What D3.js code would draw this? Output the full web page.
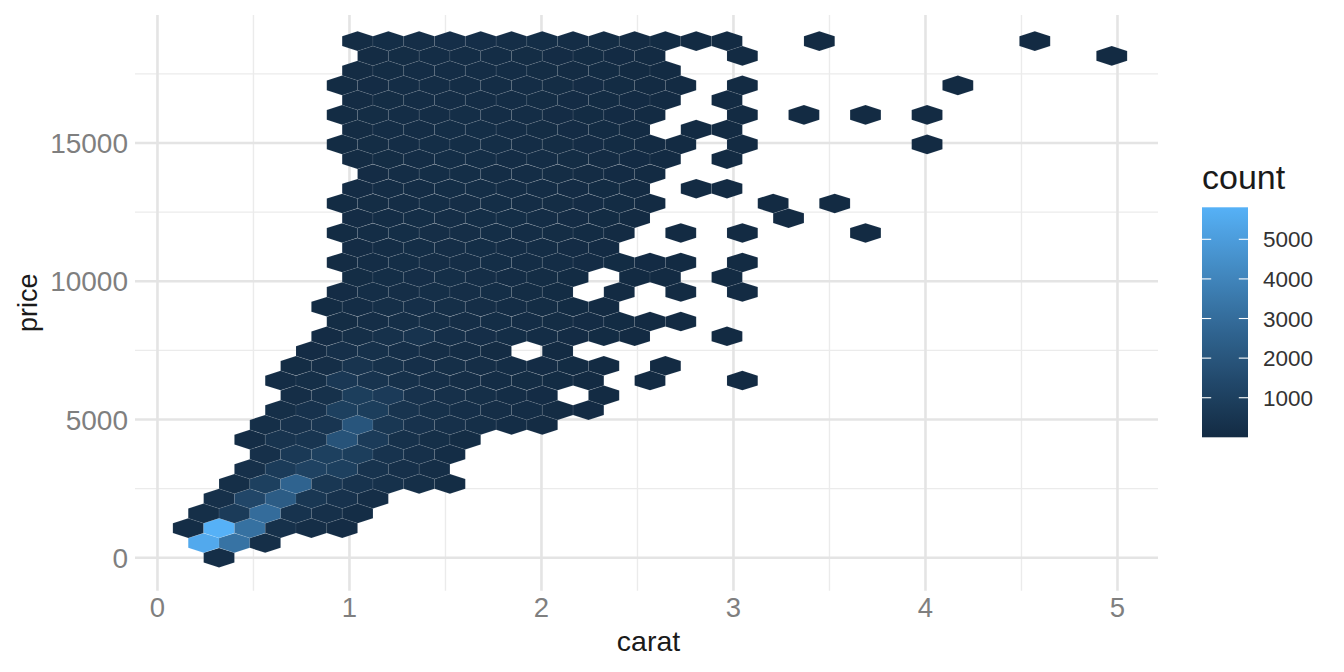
<!DOCTYPE html>
<html>
<head>
<meta charset="utf-8">
<script src="https://cdn.jsdelivr.net/npm/d3@7"></script>
<style>
	body { margin: 0; background: #fff; }
	text { font-family: "Liberation Sans", Arial, Helvetica, sans-serif; }
</style>
</head>
<body>
<svg id="chart" width="1344" height="672"></svg>
<script>
// hex lattice of the binned diamonds data (carat vs price)
const caratBin = 0.16033;
const priceRowStep = 533.9;

// first half-column index of each hex row (row 0 = price 0)
const rowStart = [4, 3, 2, 3, 4, 5, 6, 7, 6, 7, 8, 9, 8, 9, 10, 11, 12, 11,
	12, 13, 12, 13, 12, 13, 12, 13, 14, 13, 12, 13, 12, 13, 12, 13, 14, 13];

// counts per hex along each row, every second half-column (0 = no hex)
const rowCounts = [
	[150],
	[5500, 3300, 200],
	[120, 5808, 3200, 300, 150, 60],
	[200, 800, 3000, 400, 250, 100],
	[250, 1300, 2300, 600, 350, 150],
	[200, 1000, 2600, 600, 400, 300, 200, 80],
	[250, 800, 1100, 1000, 400, 250, 150],
	[250, 700, 1000, 900, 400, 250, 120],
	[120, 450, 500, 1900, 800, 300, 200, 80],
	[180, 350, 500, 2000, 600, 350, 250, 180, 120, 50],
	[180, 350, 1000, 900, 450, 300, 220, 150, 100, 50, 20],
	[150, 300, 900, 750, 350, 250, 180, 120, 60, 0, 8],
	[100, 200, 650, 450, 300, 220, 160, 120, 80, 40, 15, 0, 5, 0, 0, 2],
	[80, 150, 450, 300, 220, 180, 150, 110, 70, 35, 12, 0, 4],
	[60, 250, 280, 220, 160, 100, 50, 0, 8],
	[70, 180, 280, 400, 220, 170, 130, 100, 70, 35, 10, 0, 0, 3],
	[90, 150, 200, 180, 150, 130, 110, 90, 60, 35, 12, 5],
	[30, 120, 180, 220, 200, 160, 120, 80, 40, 15],
	[70, 130, 160, 180, 160, 130, 90, 35, 0, 8, 0, 4, 0, 2],
	[80, 140, 170, 180, 150, 120, 80, 30, 0, 10, 5, 0, 2],
	[50, 110, 140, 160, 160, 140, 120, 100, 70, 40, 20, 6, 0, 3],
	[70, 110, 140, 160, 140, 120, 100, 60, 20],
	[45, 100, 130, 150, 150, 130, 110, 80, 45, 15, 0, 5, 0, 3, 0, 0, 0, 1],
	[60, 100, 130, 150, 130, 130, 100, 75, 40, 12, 0, 0, 0, 0, 1],
	[40, 80, 120, 140, 150, 130, 110, 90, 60, 30, 10, 0, 0, 0, 1, 0, 1],
	[60, 100, 120, 140, 140, 120, 100, 70, 40, 15, 0, 4, 3],
	[70, 110, 130, 140, 120, 100, 80, 50, 25, 10],
	[50, 90, 110, 130, 140, 120, 100, 80, 50, 25, 10, 0, 3],
	[40, 90, 120, 140, 130, 130, 110, 80, 60, 35, 18, 6, 0, 4, 0, 0, 0, 0, 0, 1],
	[55, 100, 120, 130, 130, 110, 90, 60, 35, 12, 0, 4, 4],
	[40, 85, 110, 120, 140, 120, 100, 75, 45, 20, 8, 0, 0, 3, 0, 1, 0, 1, 0, 1],
	[50, 85, 100, 120, 120, 100, 90, 70, 45, 20, 8, 0, 2],
	[35, 70, 95, 110, 120, 120, 100, 85, 60, 35, 18, 6, 0, 2, 0, 0, 0, 0, 0, 0, 1],
	[50, 80, 95, 110, 110, 95, 80, 55, 35, 18, 6],
	[55, 80, 95, 100, 95, 80, 65, 45, 20, 8, 0, 0, 3, 0, 0, 0, 0, 0, 0, 0, 0, 0, 0, 0, 1],
	[80, 130, 150, 170, 170, 150, 130, 110, 80, 50, 30, 15, 5, 0, 0, 1, 0, 0, 0, 0, 0, 0, 1],
];

const xTicks = [0, 1, 2, 3, 4, 5];
const xMinorTicks = [0.5, 1.5, 2.5, 3.5, 4.5];
const yTicks = [0, 5000, 10000, 15000];
const yMinorTicks = [2500, 7500, 12500, 17500];
const legendTicks = [1000, 2000, 3000, 4000, 5000];

const svg = d3.select("#chart");

// panel
const x = d3.scaleLinear().domain([-0.117, 5.211]).range([135, 1158]);
const y = d3.scaleLinear().domain([-1194, 19630]).range([590.7, 15]);

// flatten the rows into hex cells
const cells = [];
rowCounts.forEach((counts, r) => {
	counts.forEach((n, k) => {
		if (n > 0) {
			cells.push({
				carat: ((rowStart[r] + 2 * k) * caratBin) / 2,
				price: r * priceRowStep,
				count: n,
			});
		}
	});
});

const countExtent = d3.extent(cells, (d) => d.count);
const color = d3
	.scaleLinear()
	.domain(countExtent)
	.range(["#132B43", "#56B1F7"])
	.interpolate(d3.interpolateLab);

// grid lines
const grid = svg.append("g");
grid
	.selectAll(".xminor")
	.data(xMinorTicks)
	.enter()
	.append("line")
	.attr("x1", (d) => x(d))
	.attr("x2", (d) => x(d))
	.attr("y1", y.range()[0])
	.attr("y2", y.range()[1])
	.attr("stroke", "#ebebeb")
	.attr("stroke-width", 1.4);
grid
	.selectAll(".yminor")
	.data(yMinorTicks)
	.enter()
	.append("line")
	.attr("x1", x.range()[0])
	.attr("x2", x.range()[1])
	.attr("y1", (d) => y(d))
	.attr("y2", (d) => y(d))
	.attr("stroke", "#ebebeb")
	.attr("stroke-width", 1.4);
grid
	.selectAll(".xmajor")
	.data(xTicks)
	.enter()
	.append("line")
	.attr("x1", (d) => x(d))
	.attr("x2", (d) => x(d))
	.attr("y1", y.range()[0])
	.attr("y2", y.range()[1])
	.attr("stroke", "#e4e4e4")
	.attr("stroke-width", 2.6);
grid
	.selectAll(".ymajor")
	.data(yTicks)
	.enter()
	.append("line")
	.attr("x1", x.range()[0])
	.attr("x2", x.range()[1])
	.attr("y1", (d) => y(d))
	.attr("y2", (d) => y(d))
	.attr("stroke", "#e4e4e4")
	.attr("stroke-width", 2.6);

// hexagons
const hw = x(caratBin / 2) - x(0);
const hv = y(0) - y((priceRowStep / Math.sqrt(3)) * 1.15);
const hexPoints = (d) => {
	const cx = x(d.carat);
	const cy = y(d.price);
	return [
		[cx + hw, cy - hv / 2],
		[cx, cy - hv],
		[cx - hw, cy - hv / 2],
		[cx - hw, cy + hv / 2],
		[cx, cy + hv],
		[cx + hw, cy + hv / 2],
	]
		.map((p) => p.join(","))
		.join(" ");
};

svg
	.append("g")
	.selectAll("polygon")
	.data(cells)
	.enter()
	.append("polygon")
	.attr("points", hexPoints)
	.attr("fill", (d) => color(d.count))
	.attr("stroke", "rgba(255,255,255,0.13)")
	.attr("stroke-width", 0.5);

// axis labels
svg
	.append("g")
	.selectAll("text")
	.data(xTicks)
	.enter()
	.append("text")
	.attr("x", (d) => x(d))
	.attr("y", 617)
	.attr("text-anchor", "middle")
	.attr("fill", "#7f7f7f")
	.style("font-size", "27.5px")
	.text((d) => d);

svg
	.append("g")
	.selectAll("text")
	.data(yTicks)
	.enter()
	.append("text")
	.attr("x", 128)
	.attr("y", (d) => y(d))
	.attr("dy", "0.36em")
	.attr("text-anchor", "end")
	.attr("fill", "#7f7f7f")
	.style("font-size", "28px")
	.text((d) => d);

svg
	.append("text")
	.attr("x", (x.range()[0] + x.range()[1]) / 2 + 2)
	.attr("y", 651)
	.attr("text-anchor", "middle")
	.attr("fill", "#1a1a1a")
	.style("font-size", "28.5px")
	.text("carat");

svg
	.append("text")
	.attr("transform", `translate(37, ${(y.range()[0] + y.range()[1]) / 2}) rotate(-90)`)
	.attr("text-anchor", "middle")
	.attr("fill", "#1a1a1a")
	.style("font-size", "27px")
	.text("price");

// colour bar legend
const barX = 1202;
const barW = 46;
const legendY = d3.scaleLinear().domain(countExtent).range([437.3, 207.3]);

const gradient = svg
	.append("defs")
	.append("linearGradient")
	.attr("id", "countGradient")
	.attr("x1", 0)
	.attr("y1", 1)
	.attr("x2", 0)
	.attr("y2", 0);
gradient
	.selectAll("stop")
	.data(d3.range(0, 1.0001, 0.05))
	.enter()
	.append("stop")
	.attr("offset", (t) => t)
	.attr("stop-color", (t) =>
		color(countExtent[0] + t * (countExtent[1] - countExtent[0]))
	);

svg
	.append("rect")
	.attr("x", barX)
	.attr("y", legendY.range()[1])
	.attr("width", barW)
	.attr("height", legendY.range()[0] - legendY.range()[1])
	.attr("fill", "url(#countGradient)");

const legendTickG = svg.append("g");
legendTickG
	.selectAll(".lt")
	.data(legendTicks)
	.enter()
	.append("line")
	.attr("x1", barX)
	.attr("x2", barX + barW / 5)
	.attr("y1", (d) => legendY(d))
	.attr("y2", (d) => legendY(d))
	.attr("stroke", "#fff")
	.attr("stroke-width", 1.1);
legendTickG
	.selectAll(".rt")
	.data(legendTicks)
	.enter()
	.append("line")
	.attr("x1", barX + barW - barW / 5)
	.attr("x2", barX + barW)
	.attr("y1", (d) => legendY(d))
	.attr("y2", (d) => legendY(d))
	.attr("stroke", "#fff")
	.attr("stroke-width", 1.1);

svg
	.append("g")
	.selectAll("text")
	.data(legendTicks)
	.enter()
	.append("text")
	.attr("x", 1263)
	.attr("y", (d) => legendY(d))
	.attr("dy", "0.36em")
	.attr("fill", "#333333")
	.style("font-size", "22.5px")
	.text((d) => d);

svg
	.append("text")
	.attr("x", barX)
	.attr("y", 189)
	.attr("fill", "#1a1a1a")
	.style("font-size", "34px")
	.text("count");
</script>
</body>
</html>
